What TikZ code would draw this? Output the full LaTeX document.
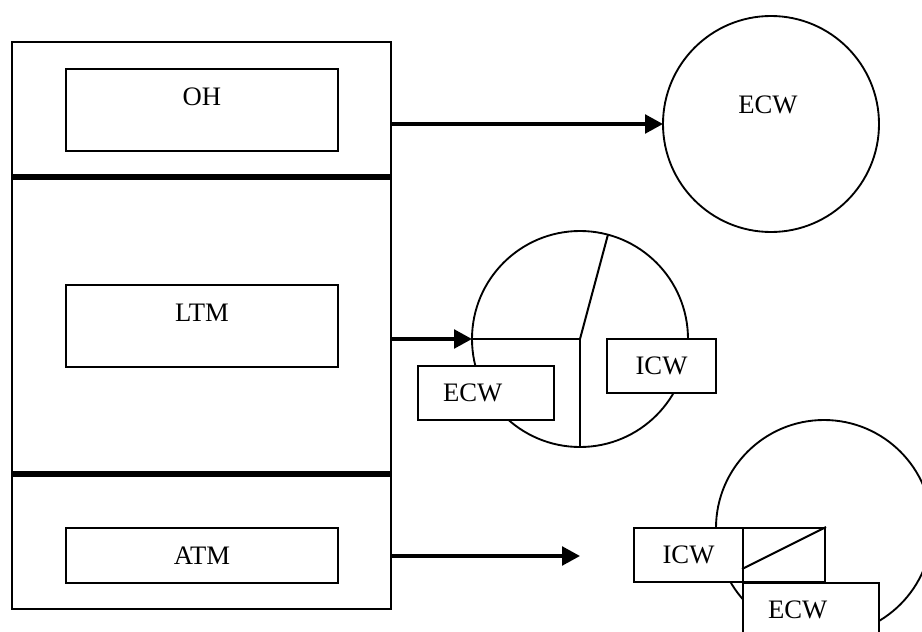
\documentclass[tikz,border=0pt]{standalone}
\usepackage{fontspec}
\setmainfont{Liberation Serif}
\usetikzlibrary{arrows.meta}

\tikzset{
	modbox/.style={draw, line width=1.5pt, fill=white, minimum width=204pt, inner sep=0pt},
	wbox/.style={draw, line width=1.5pt, fill=white, minimum height=40.5pt, inner sep=0pt},
	ecwbox/.style={wbox, text width=64.5pt, align=left, inner xsep=18.75pt},
	wcirc/.style={draw, circle, line width=1.4pt, minimum size=162pt, inner sep=0pt, outer sep=0pt},
	sepline/.style={line width=4pt},
	arr/.style={line width=2.6pt, -{Triangle[length=13.5pt,width=14pt]}}
}

\begin{document}
\begin{tikzpicture}[x=0.75pt, y=-0.75pt, font=\fontsize{20}{24}\selectfont]
	\clip (0,0) rectangle (922,632);
	% memory column
	\node (mem) [draw, line width=1.5pt, minimum width=284.25pt, minimum height=425.25pt, inner sep=0pt] at (201.5,325.5) {};
	\draw [sepline] (mem.west |- 0,177) -- (mem.east |- 0,177);
	\draw [sepline] (mem.west |- 0,474) -- (mem.east |- 0,474);
	% label
	\node (ohbox) [modbox, minimum height=61.5pt] at (202,110) {};
	\node (ohtext) at (202,97) {OH};
	\node (ltmbox) [modbox, minimum height=61.5pt] at (202,326) {};
	\node (ltmtext) at (202,313) {LTM};
	\node (atmbox) [modbox, minimum height=41.25pt] at (202,555.5) {ATM};

	% OH
	\node (cirA) [wcirc] at (771,124) {};
	\node (ecwA) at (768,105) {ECW};
	\draw [arr] (cirA.west -| mem.east) -- (cirA.west);

	% LTM
	\node (cirB) [wcirc] at (580,339) {};
	\draw [line width=1.5pt] (cirB.west) -- (cirB.center) -- (cirB.south);
	\draw [line width=1.5pt] (cirB.center) -- (cirB.75);
	\node (ecwB) [ecwbox] at (486,393) {ECW};
	\node (icwB) [wbox, minimum width=81.75pt] at (661.5,366) {ICW};
	\draw [arr] (cirB.west -| mem.east) -- (cirB.west);

	% ATM
	\node (cirC) [wcirc] at (824,528) {};
	\node (icwC) [wbox, minimum width=81.75pt] at (688.5,555) {ICW};
	\node (blankC) [wbox, minimum width=61.5pt] at (784,555) {};
	\draw [line width=1.5pt] ([yshift=-10.5pt]blankC.west) -- (blankC.north east);
	\node (ecwC) [ecwbox] at (811,610) {ECW};
	\coordinate (atmtip) at (580,556);
	\draw [arr] (atmtip -| mem.east) -- (atmtip);
\end{tikzpicture}
\end{document}
